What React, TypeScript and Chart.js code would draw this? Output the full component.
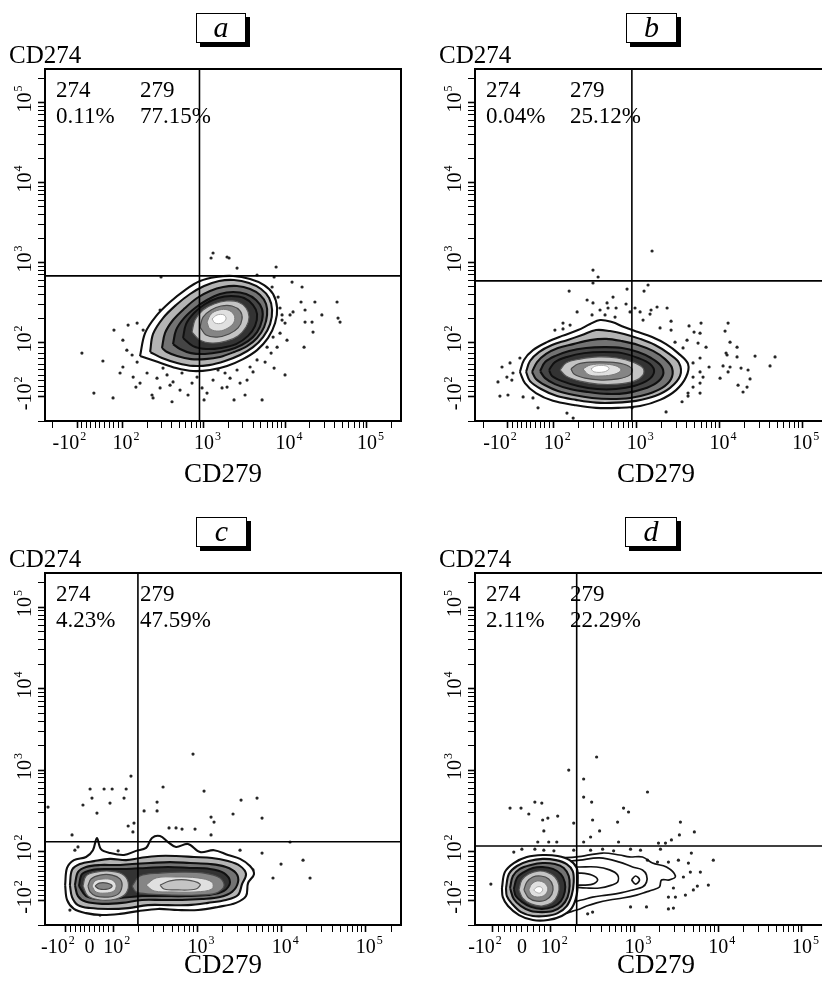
import React, { useEffect, useRef } from 'react';
import { Chart, Scale, registerables } from 'chart.js';

Chart.register(...registerables);

const FONT = '"Liberation Serif", "Times New Roman", serif';
Chart.defaults.font.family = FONT;
Chart.defaults.color = '#000';

// ---------------- text / labels ----------------
const PANEL_LETTERS = ['a', 'b', 'c', 'd'];
const X_TITLE = 'CD279';
const Y_TITLE = 'CD274';
const Q_LEFT_NAME = '274';
const Q_RIGHT_NAME = '279';
const Q_LEFT_PCT = ['0.11%', '0.04%', '4.23%', '2.11%'];
const Q_RIGHT_PCT = ['77.15%', '25.12%', '47.59%', '22.29%'];

// quadrant gates (CD279 threshold, CD274 threshold) per panel
const GATE_X = [880, 875, 196, 204];
const GATE_Y = [680, 589, 132, 117];

// axis ticks
const TICK_VALUES = [-200, -100, -80, -60, -40, -20, 0, 20, 40, 60, 80, 100, 200, 300, 400, 500, 600, 700, 800, 900,
  1000, 2000, 3000, 4000, 5000, 6000, 7000, 8000, 9000, 10000, 20000, 30000, 40000, 50000, 60000, 70000, 80000, 90000,
  100000, 200000];
const MAJOR_TICKS = [-100, 100, 1000, 10000, 100000];
const AXIS_MAX = 262144;
const X_LABELS_NO_ZERO = [[-100, '-10', '2'], [100, '10', '2'], [1000, '10', '3'], [10000, '10', '4'], [100000, '10', '5']];
const X_LABELS_ZERO = [[-100, '-10', '2'], [0, '0', ''], [100, '10', '2'], [1000, '10', '3'], [10000, '10', '4'], [100000, '10', '5']];
const Y_LABELS = [[-100, '-10', '2'], [100, '10', '2'], [1000, '10', '3'], [10000, '10', '4'], [100000, '10', '5']];

// ---------------- panel a data ----------------
const A_C1 = [[164,50],[189,131],[258,214],[383,321],[585,453],[894,587],[1406,659],[2274,678],[3678,622],[5465,523],[7052,404],[7899,270],[7464,175],[6121,114],[4482,72],[3017,39],[1919,14],[1186,-1],[734,-5],[454,6],[273,28]];
const A_C2 = [[218,65],[237,128],[314,202],[454,294],[674,404],[1002,508],[1530,587],[2339,604],[3575,554],[5020,466],[6297,360],[6855,255],[6478,170],[5313,117],[4003,83],[2772,54],[1813,32],[1153,17],[734,14],[467,25],[305,43]];
const A_C3 = [[305,80],[332,131],[417,191],[585,270],[822,360],[1186,440],[1714,494],[2546,508],[3678,466],[4880,392],[5784,303],[5950,221],[5465,156],[4482,114],[3378,87],[2339,65],[1574,47],[1030,39],[693,39],[467,50],[352,65]];
const A_C4 = [[417,94],[454,143],[569,202],[776,270],[1089,340],[1574,404],[2274,428],[3284,404],[4357,340],[5164,262],[5164,191],[4482,135],[3475,104],[2406,80],[1574,65],[1030,58],[693,61],[508,76]];
const A_C5 = [[553,114],[602,170],[755,234],[1030,303],[1487,360],[2149,381],[3104,360],[4003,294],[4482,227],[4236,161],[3475,121],[2475,94],[1619,80],[1059,76],[734,87]];
const A_C6 = [[713,135],[776,191],[973,255],[1328,303],[1865,330],[2619,321],[3284,270],[3575,208],[3284,156],[2619,121],[1865,104],[1256,98],[894,107]];
const A_C7 = [[894,156],[973,208],[1221,255],[1619,286],[2210,286],[2772,248],[2933,197],[2619,152],[2031,128],[1446,117],[1059,124]];
const A_C8 = [[1089,180],[1221,227],[1530,255],[1974,255],[2339,221],[2339,180],[1974,152],[1530,139],[1186,148]];
const A_C9 = [[1256,197],[1446,221],[1763,221],[1865,197],[1666,175],[1367,175]];
const A_DOTS = [[1221,1138],[1292,1314],[1919,1172],[2031,1138],[2546,853],[7678,878],[4482,698],[297,659],[7256,659],
  [12050,570],[15990,494],[15530,321],[17400,255],[23000,321],[12400,241],[11390,221],[21200,180],[28000,221],[43000,321],
  [46800,180],[44200,202],[17400,180],[21800,135],[16930,83],[10450,107],[9086,221],[9879,175],[8585,131],[7899,83],
  [6665,61],[5623,28],[7256,6],[9879,-19],[4003,-8],[3378,-38],[3192,-93],[2339,-109],[5164,-109],[2089,-31],[1666,-67],
  [1292,-38],[1089,-86],[713,-49],[637,-93],[537,-12],[417,-45],[405,-115],[352,-19],[289,-67],[265,-31],[230,-93],
  [237,-103],[200,-12],[164,-49],[146,-64],[135,-27],[101,10],[89,-12],[58,-103],[-27,-86],[13,32],[-80,61],[62,143],
  [117,165],[151,175],[101,107],[113,72],[131,54],[151,28],[184,80],[179,143],[289,255],[417,321],[383,-57],[822,-27],
  [894,10],[1186,6],[1487,-1],[1813,-12],[2546,-1],[2772,-49],[3678,10],[4482,36],[5950,83],[7052,117],[8585,270],
  [8126,370],[6855,494],[9086,191],[314,6],[467,10],[508,-75],[734,17],[946,-67],[1919,-64],[1002,-109]];

// ---------------- panel b data ----------------
const B_C1 = [[-48,-8],[-30,36],[9,72],[70,101],[126,121],[196,143],[274,170],[361,191],[504,180],[704,156],[1039,135],[1534,117],[2264,94],[3159,61],[4170,21],[3945,-27],[2988,-75],[1916,-109],[1099,-130],[596,-137],[323,-137],[175,-126],[96,-112],[22,-86],[-26,-49]];
const B_C2 = [[-21,-8],[-4,32],[35,65],[92,91],[144,107],[219,124],[323,143],[477,139],[704,128],[1099,111],[1668,91],[2394,61],[3248,25],[3340,-23],[2531,-67],[1668,-97],[982,-112],[564,-118],[323,-118],[185,-109],[109,-97],[44,-71],[-4,-42]];
const B_C3 = [[5,-8],[27,28],[66,58],[112,80],[171,94],[274,107],[427,111],[666,104],[1039,91],[1577,69],[2202,39],[2675,6],[2602,-34],[2025,-67],[1372,-89],[832,-103],[491,-106],[289,-103],[175,-93],[112,-78],[62,-57],[22,-34]];
const B_C4 = [[40,-5],[62,28],[103,50],[153,69],[245,80],[404,83],[666,80],[1039,65],[1491,43],[1970,14],[2082,-19],[1715,-49],[1194,-71],[744,-86],[439,-89],[259,-82],[157,-71],[103,-53],[62,-31]];
const B_C5 = [[79,-1],[103,28],[144,47],[232,61],[393,65],[666,61],[1039,43],[1450,21],[1622,-8],[1372,-38],[929,-60],[564,-71],[332,-71],[196,-60],[126,-42],[92,-23]];
const B_C6 = [[119,-1],[140,25],[207,39],[342,47],[580,43],[904,28],[1194,6],[1194,-19],[929,-42],[580,-53],[342,-53],[207,-42],[140,-23]];
const B_C7 = [[161,3],[196,21],[289,28],[451,28],[685,21],[879,3],[832,-19],[596,-34],[372,-38],[238,-31],[175,-16]];
const B_C8 = [[225,3],[274,17],[393,21],[564,14],[648,-1],[548,-16],[382,-23],[266,-19]];
const B_C9 = [[281,3],[323,14],[427,14],[464,3],[404,-8],[306,-8]];
const B_DOTS = [[1534,1393],[297,805],[342,659],[297,554],[153,440],[765,466],[1227,440],[1372,523],[518,370],[252,340],
  [297,312],[439,312],[744,303],[191,241],[361,255],[451,270],[564,270],[832,241],[955,270],[1099,241],[1491,255],
  [1762,278],[2328,270],[289,221],[415,221],[548,208],[1450,227],[1194,191],[2602,185],[1916,152],[2602,143],[4290,161],
  [5986,175],[5822,131],[4930,135],[12690,175],[11670,139],[4056,107],[2904,101],[3630,80],[5509,98],[6880,83],[5822,43],
  [4795,25],[13400,101],[16290,83],[16290,47],[12340,54],[26860,50],[7480,10],[11040,14],[13400,10],[18200,6],[22110,-1],
  [5822,-8],[10160,-31],[12690,-8],[23380,-34],[16750,-57],[21500,-64],[19240,-82],[4795,-27],[6327,-27],[5822,-49],
  [4795,-64],[5822,-86],[4170,-86],[4170,-97],[3530,-115],[2264,-154],[879,-137],[171,-184],[144,-159],[31,-137],[9,-103],
  [-34,-100],[-100,-93],[-125,-97],[-132,-45],[-103,-27],[-83,-38],[-118,10],[-91,25],[-48,43],[-78,-12],[129,175],
  [103,143],[129,148],[157,165],[46850,47],[40740,14],[12000,61]];

// ---------------- panel c data ----------------
const C_C1 = [[-102,-37],[-95,33],[-66,65],[-15,78],[14,104],[31,147],[48,107],[86,94],[134,86],[186,102],[245,111],[288,147],[359,155],[447,131],[556,114],[772,124],[1072,98],[1573,104],[2307,86],[3205,70],[4211,41],[4697,8],[3987,-29],[3775,-82],[2872,-107],[1754,-120],[1016,-131],[587,-131],[340,-127],[197,-135],[120,-146],[52,-151],[-15,-143],[-66,-127],[-95,-98]];
const C_C2 = [[-83,-37],[-74,25],[-41,49],[19,61],[86,70],[142,65],[208,74],[340,82],[556,82],[910,78],[1489,74],[2307,61],[3205,41],[3775,8],[3384,-33],[3034,-78],[2184,-98],[1334,-107],[772,-114],[447,-114],[258,-114],[150,-124],[78,-127],[2,-124],[-49,-114],[-74,-86]];
const C_C3 = [[-62,-37],[-49,16],[-15,37],[44,45],[108,45],[167,49],[273,53],[472,57],[815,53],[1409,49],[2184,37],[2872,12],[3034,-25],[2574,-65],[1853,-86],[1133,-94],[655,-98],[379,-98],[219,-98],[127,-107],[52,-110],[-15,-104],[-49,-82]];
const C_C4 = [[-45,-41],[-32,8],[10,25],[78,29],[142,29],[245,33],[447,37],[815,33],[1409,29],[2068,12],[2437,-25],[2068,-61],[1334,-78],[731,-82],[400,-82],[219,-82],[120,-90],[44,-94],[-15,-82]];
const C_L1 = [[-28,-41],[-15,0],[27,16],[86,20],[127,8],[150,-25],[142,-70],[108,-94],[44,-98],[-7,-82]];
const C_L2 = [[-7,-41],[6,-12],[44,4],[95,4],[120,-12],[127,-41],[114,-74],[78,-86],[27,-82],[2,-65]];
const C_L3 = [[10,-41],[23,-20],[57,-12],[95,-16],[108,-37],[102,-61],[65,-70],[27,-65]];
const C_L4 = [[23,-41],[40,-29],[73,-29],[95,-41],[78,-53],[40,-53]];
const C_R1 = [[167,-41],[208,0],[359,12],[655,16],[1197,12],[1853,-8],[2068,-41],[1661,-70],[961,-78],[499,-78],[273,-74],[186,-65]];
const C_R2 = [[245,-37],[322,-8],[556,-4],[1016,-8],[1489,-25],[1489,-53],[961,-65],[499,-65],[305,-61]];
const C_R3 = [[359,-37],[472,-20],[731,-16],[1072,-33],[961,-53],[587,-57],[400,-53]];
const C_DOTS = [[885,1574],[162,845],[2,586],[61,586],[95,586],[142,586],[390,620],[1197,553],[10,454],[134,454],
  [3296,429],[5101,454],[-163,352],[-28,373],[86,394],[331,405],[31,297],[232,315],[331,315],[2645,289],[5853,258],
  [1449,265],[1573,230],[150,206],[176,224],[459,195],[556,195],[655,189],[935,189],[-74,160],[171,174],[1449,160],
  [12590,131],[17970,65],[9836,49],[7898,-8],[21760,-8],[5853,94],[4567,25],[2645,-107],[-83,-131],[44,-151],[-62,104],
  [-49,114],[114,102],[3205,104],[3673,-70]];

// ---------------- panel d data ----------------
const D_T1 = [[128,74],[204,78],[416,94],[663,86],[873,78],[1247,78],[1640,53],[2409,37],[3083,0],[2614,-16],[2100,-16],[1987,-45],[1640,-57],[1391,-65],[1058,-78],[721,-90],[504,-98],[353,-107],[268,-117],[204,-131],[128,-139]];
const D_T2 = [[128,57],[222,65],[383,74],[663,57],[948,37],[1247,25],[1391,4],[1391,-25],[1247,-45],[948,-57],[663,-70],[464,-78],[316,-86],[234,-98],[128,-107]];
const D_T3 = [[147,37],[222,37],[353,37],[504,25],[628,4],[628,-25],[533,-37],[383,-49],[268,-49],[193,-45],[147,-41]];
const D_T4 = [[159,12],[222,12],[308,4],[363,-16],[316,-33],[222,-37],[159,-33]];
const D_LOOP = [[922,-16],[1029,0],[1148,-16],[1029,-33]];
const D_C1 = [[-69,-49],[-59,16],[-28,53],[17,78],[72,86],[121,82],[168,65],[204,33],[210,-16],[204,-78],[178,-124],[135,-155],[90,-174],[38,-174],[-10,-151],[-48,-117],[-66,-86]];
const D_C2 = [[-55,-49],[-45,8],[-17,41],[24,61],[72,70],[115,65],[155,49],[183,20],[188,-25],[178,-78],[155,-117],[121,-143],[83,-155],[38,-155],[-3,-139],[-34,-110],[-52,-82]];
const D_C3 = [[-41,-49],[-31,0],[-7,29],[31,45],[72,53],[112,49],[143,33],[164,0],[168,-41],[159,-86],[135,-117],[106,-135],[69,-139],[31,-135],[-3,-117],[-28,-94]];
const D_C4 = [[-28,-53],[-17,-8],[7,16],[38,33],[72,37],[106,29],[132,8],[147,-25],[147,-65],[132,-102],[106,-120],[69,-127],[31,-120],[0,-104],[-21,-82]];
const D_C5 = [[-10,-57],[0,-16],[24,8],[55,20],[86,16],[112,-4],[125,-37],[121,-78],[103,-107],[69,-117],[31,-110],[3,-90]];
const D_C6 = [[7,-57],[17,-25],[38,-4],[66,0],[93,-12],[106,-41],[103,-74],[83,-98],[52,-102],[24,-90]];
const D_C7 = [[24,-57],[34,-33],[55,-20],[79,-29],[90,-53],[79,-78],[55,-86],[34,-78]];
const D_C8 = [[41,-57],[52,-45],[66,-45],[72,-57],[62,-70],[48,-65]];
const D_DOTS = [[353,1447],[164,1001],[247,777],[1430,538],[247,467],[308,405],[45,405],[69,394],[-41,342],[-3,342],
  [740,342],[849,306],[24,289],[121,273],[90,258],[72,244],[316,244],[628,230],[188,224],[3535,230],[76,179],[383,179],
  [299,151],[247,131],[5188,174],[3438,160],[2762,139],[55,131],[93,131],[118,131],[645,131],[1933,127],[2344,127],
  [-28,98],[0,107],[45,107],[76,104],[109,102],[188,104],[299,104],[416,107],[563,102],[897,107],[1180,104],[2043,107],
  [4776,94],[8736,65],[1430,65],[1881,57],[2543,57],[3346,65],[4403,53],[4645,16],[6117,16],[3838,-4],[7621,-37],
  [5633,-41],[2918,-49],[5047,-57],[4055,-78],[2543,-86],[3083,-86],[-106,-33],[897,-120],[1391,-120],[2543,-127],
  [2918,-124],[276,-146],[316,-139]];

// ---------------- styling (not data) ----------------
const LEVEL_STYLES = {
  ring0: { border: '#101010', width: 2.1, fill: '#ffffff' },
  ring1: { border: '#101010', width: 2.1, fill: '#b4b4b4' },
  ring2: { border: '#101010', width: 2.1, fill: '#737373' },
  ring3: { border: '#101010', width: 2.1, fill: '#454545' },
  dark: { border: '#101010', width: 2, fill: '#333333' },
  light: { border: '#555555', width: 1.2, fill: '#c4c4c4' },
  mid: { border: '#4a4a4a', width: 1.2, fill: '#858585' },
  pale: { border: '#7a7a7a', width: 1, fill: '#e0e0e0' },
  core: { border: '#aaaaaa', width: 1, fill: '#ffffff' },
  line: { border: '#121212', width: 1.7, fill: null },
};

const PANEL_CONTOURS = [
  [[A_C1, 'ring0'], [A_C2, 'ring1'], [A_C3, 'ring2'], [A_C4, 'ring3'], [A_C5, 'dark'], [A_C6, 'light'], [A_C7, 'mid'], [A_C8, 'pale'], [A_C9, 'core']],
  [[B_C1, 'ring0'], [B_C2, 'ring1'], [B_C3, 'ring2'], [B_C4, 'ring3'], [B_C5, 'dark'], [B_C6, 'light'], [B_C7, 'mid'], [B_C8, 'pale'], [B_C9, 'core']],
  [[C_C1, 'ring0'], [C_C2, 'ring1'], [C_C3, 'ring2'], [C_C4, 'dark'], [C_L1, 'light'], [C_L2, 'mid'], [C_L3, 'pale'], [C_L4, 'mid'], [C_R1, 'mid'], [C_R2, 'pale'], [C_R3, 'light']],
  [[D_T1, 'line'], [D_T2, 'line'], [D_T3, 'line'], [D_T4, 'line'], [D_LOOP, 'line'], [D_C1, 'ring0'], [D_C2, 'ring1'], [D_C3, 'ring2'], [D_C4, 'dark'], [D_C5, 'light'], [D_C6, 'mid'], [D_C7, 'pale'], [D_C8, 'core']],
];
const PANEL_DOTS = [A_DOTS, B_DOTS, C_DOTS, D_DOTS];

// axis transform parameters (linear-region width in decades, lower bound)
const AXES = [
  { x: { lin: 0.277, min: -250 }, y: { lin: 0.34, min: -200 }, xLabels: X_LABELS_NO_ZERO },
  { x: { lin: 0.277, min: -250 }, y: { lin: 0.34, min: -200 }, xLabels: X_LABELS_NO_ZERO },
  { x: { lin: 0.282, min: -177 }, y: { lin: 0.3, min: -200 }, xLabels: X_LABELS_ZERO },
  { x: { lin: 0.345, min: -164 }, y: { lin: 0.3, min: -200 }, xLabels: X_LABELS_ZERO },
];

const LAYOUT = [
  { left: 0, top: 0, w: 411, h: 490, padTop: 69, padRight: 10, yW: 45, xH: 69, box: [196, 13, 50] },
  { left: 411, top: 0, w: 430, h: 490, padTop: 69, padRight: 4, yW: 64, xH: 69, box: [626, 13, 51] },
  { left: 0, top: 490, w: 411, h: 491, padTop: 83, padRight: 10, yW: 45, xH: 56, box: [196, 517, 51] },
  { left: 411, top: 490, w: 430, h: 491, padTop: 83, padRight: 3, yW: 64, xH: 56, box: [625, 517, 52] },
];

// ---------------- biexponential-like scale ----------------
const LIN_REF = 100;
class LogicleScale extends Scale {
  static id = 'logicle';
  static defaults = {};
  tf(v) {
    const z = Number(this.options.linDecades) || 0.3;
    const a = Math.abs(v);
    if (a <= LIN_REF) return (v / LIN_REF) * z;
    return Math.sign(v) * (z + Math.log10(a / LIN_REF));
  }
  itf(t) {
    const z = Number(this.options.linDecades) || 0.3;
    const a = Math.abs(t);
    if (a <= z) return (t / z) * LIN_REF;
    return Math.sign(t) * LIN_REF * Math.pow(10, a - z);
  }
  determineDataLimits() {
    const { min, max } = this.getUserBounds();
    this.min = min;
    this.max = max;
  }
  buildTicks() {
    return TICK_VALUES.filter((v) => v >= this.min && v <= this.max).map((v) => ({ value: v }));
  }
  configure() {
    super.configure();
    this._t0 = this.tf(this.min);
    this._t1 = this.tf(this.max);
  }
  getPixelForValue(value) {
    if (value === null || value === undefined || isNaN(value)) return NaN;
    return this.getPixelForDecimal((this.tf(value) - this._t0) / (this._t1 - this._t0));
  }
  getValueForPixel(pixel) {
    return this.itf(this._t0 + this.getDecimalForPixel(pixel) * (this._t1 - this._t0));
  }
}
Chart.register(LogicleScale);

function drawPower(ctx, base, exp, cx, by, negative) {
  ctx.font = `20px ${FONT}`;
  const wb = ctx.measureText(base).width;
  ctx.font = `12px ${FONT}`;
  const we = exp ? ctx.measureText(exp).width + 1 : 0;
  const x0 = negative ? cx - (wb + we) / 2 - 8 : cx - wb / 2;
  ctx.font = `20px ${FONT}`;
  ctx.fillText(base, x0, by);
  if (exp) {
    ctx.font = `12px ${FONT}`;
    ctx.fillText(exp, x0 + wb + 1, by - 9);
  }
}

function makeTextPlugin(i) {
  return {
    id: 'panelText' + i,
    afterDraw(chart) {
      const { ctx, chartArea: ca, scales } = chart;
      const xs = scales.x;
      const ys = scales.y;
      ctx.save();
      ctx.strokeStyle = '#000';
      ctx.lineWidth = 2;
      ctx.strokeRect(ca.left, ca.top, ca.right - ca.left, ca.bottom - ca.top);
      ctx.fillStyle = '#000';
      ctx.textAlign = 'left';
      ctx.textBaseline = 'alphabetic';
      for (const [v, base, exp] of AXES[i].xLabels) {
        drawPower(ctx, base, exp, xs.getPixelForValue(v), ca.bottom + 28, v < 0);
      }
      for (const [v, base, exp] of Y_LABELS) {
        ctx.save();
        ctx.translate(ca.left - 14, ys.getPixelForValue(v));
        ctx.rotate(-Math.PI / 2);
        drawPower(ctx, base, exp, 0, 0, false);
        ctx.restore();
      }
      ctx.font = `25px ${FONT}`;
      ctx.fillText(Y_TITLE, ca.left - 36, ca.top - 6);
      ctx.font = `23px ${FONT}`;
      ctx.fillText(Q_LEFT_NAME, ca.left + 11, ca.top + 28);
      ctx.fillText(Q_LEFT_PCT[i], ca.left + 11, ca.top + 54);
      ctx.fillText(Q_RIGHT_NAME, ca.left + 95, ca.top + 28);
      ctx.fillText(Q_RIGHT_PCT[i], ca.left + 95, ca.top + 54);
      ctx.restore();
    },
  };
}

function buildConfig(i) {
  const lay = LAYOUT[i];
  const ax = AXES[i];
  const contours = PANEL_CONTOURS[i];
  const datasets = [];
  contours.forEach(([pts, level], k) => {
    const st = LEVEL_STYLES[level];
    const data = pts.map(([x, y]) => ({ x, y }));
    data.push({ x: pts[0][0], y: pts[0][1] });
    datasets.push({
      data,
      showLine: true,
      tension: 0.35,
      pointRadius: 0,
      borderColor: st.border,
      borderWidth: st.width,
      backgroundColor: st.fill || 'rgba(0,0,0,0)',
      fill: st.fill ? 'shape' : false,
      order: 2 + contours.length - k,
    });
  });
  datasets.push({
    data: PANEL_DOTS[i].map(([x, y]) => ({ x, y })),
    showLine: false,
    pointRadius: 1.6,
    backgroundColor: '#262626',
    borderWidth: 0,
    order: 1000,
  });
  datasets.push({
    data: [{ x: GATE_X[i], y: ax.y.min }, { x: GATE_X[i], y: AXIS_MAX }],
    showLine: true, pointRadius: 0, borderColor: '#000', borderWidth: 1.6, fill: false, order: 0,
  });
  datasets.push({
    data: [{ x: ax.x.min, y: GATE_Y[i] }, { x: AXIS_MAX, y: GATE_Y[i] }],
    showLine: true, pointRadius: 0, borderColor: '#000', borderWidth: 1.6, fill: false, order: 0,
  });

  const gridOpts = {
    drawOnChartArea: false,
    tickLength: 7,
    color: '#000',
    tickColor: '#000',
    tickWidth: (c) => (c.tick && MAJOR_TICKS.includes(c.tick.value) ? 1.6 : 1),
  };

  return {
    type: 'scatter',
    data: { datasets },
    options: {
      responsive: false,
      animation: false,
      devicePixelRatio: 1,
      events: [],
      layout: { padding: { left: 0, top: lay.padTop, right: lay.padRight, bottom: 0 } },
      plugins: { legend: { display: false }, tooltip: { enabled: false }, title: { display: false } },
      scales: {
        x: {
          type: 'logicle',
          position: 'bottom',
          min: ax.x.min,
          max: AXIS_MAX,
          linDecades: ax.x.lin,
          grid: gridOpts,
          border: { display: true, color: '#000', width: 2 },
          ticks: { display: false },
          title: { display: true, text: X_TITLE, color: '#000', font: { size: 27, lineHeight: 1 }, padding: { top: 0, bottom: 2 } },
          afterFit: (s) => { s.height = lay.xH; },
        },
        y: {
          type: 'logicle',
          position: 'left',
          min: ax.y.min,
          max: AXIS_MAX,
          linDecades: ax.y.lin,
          grid: gridOpts,
          border: { display: true, color: '#000', width: 2 },
          ticks: { display: false },
          afterFit: (s) => { s.width = lay.yW; },
        },
      },
    },
    plugins: [makeTextPlugin(i)],
  };
}

function Panel({ index }) {
  const ref = useRef(null);
  const lay = LAYOUT[index];
  useEffect(() => {
    const chart = new Chart(ref.current, buildConfig(index));
    return () => chart.destroy();
  }, [index]);
  return (
    <div style={{ position: 'absolute', left: lay.left, top: lay.top, width: lay.w, height: lay.h }}>
      <canvas ref={ref} width={lay.w} height={lay.h} style={{ display: 'block', width: lay.w, height: lay.h }} />
    </div>
  );
}

function LetterBox({ index }) {
  const [left, top, width] = LAYOUT[index].box;
  return (
    <div
      style={{
        position: 'absolute', left, top, width, height: 30, boxSizing: 'border-box',
        border: '1.5px solid #000', boxShadow: '4px 4px 0 #000', background: '#fff',
        fontFamily: FONT, fontStyle: 'italic', fontSize: 30, lineHeight: '26px', textAlign: 'center', color: '#000',
      }}
    >
      {PANEL_LETTERS[index]}
    </div>
  );
}

export default function App() {
  return (
    <div style={{ position: 'absolute', left: 0, top: 0, width: 822, height: 981, overflow: 'hidden', background: '#fff' }}>
      {[0, 1, 2, 3].map((i) => <Panel key={i} index={i} />)}
      {[0, 1, 2, 3].map((i) => <LetterBox key={'l' + i} index={i} />)}
    </div>
  );
}
